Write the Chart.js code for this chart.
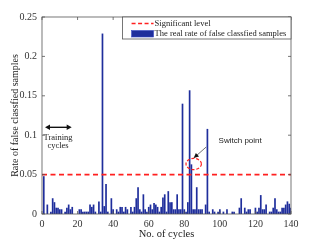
<!DOCTYPE html>
<html>
<head>
    <title>Rate of false classfied samples</title>
    <script src="https://cdn.jsdelivr.net/npm/chart.js"></script>
    <style>
        html, body { margin: 0; padding: 0; background: #fff; }
    </style>
</head>
<body>
    <canvas id="mainChart" width="321" height="241"></canvas>
    <script>
        // rate of false classified samples, cycle 0..140
        const falseRate = [
            0, 0.048, 0, 0.012, 0, 0.003, 0.020, 0.015, 0.008, 0.008,
            0.006, 0.006, 0, 0.003, 0.008, 0.012, 0.006, 0.009, 0, 0,
            0, 0.006, 0.006, 0.003, 0.003, 0.003, 0.003, 0.012, 0.009, 0.012,
            0.003, 0, 0.016, 0.003, 0.229, 0.010, 0.038, 0.003, 0, 0.020,
            0.006, 0, 0.006, 0.003, 0.009, 0.009, 0.003, 0.009, 0.006, 0,
            0.009, 0.003, 0.009, 0.020, 0.034, 0.006, 0.003, 0.025, 0.006, 0.003,
            0.009, 0.012, 0.006, 0.014, 0.012, 0.009, 0.003, 0.009, 0.021, 0.025,
            0.003, 0.029, 0.015, 0.015, 0.006, 0.006, 0.025, 0.006, 0.006, 0.140,
            0.006, 0.003, 0.015, 0.157, 0.063, 0.006, 0.006, 0.034, 0.006, 0.006,
            0.006, 0, 0.012, 0.108, 0.003, 0, 0.006, 0.003, 0, 0.003,
            0.006, 0, 0.003, 0, 0.006, 0, 0, 0.003, 0.003, 0,
            0, 0.008, 0.020, 0, 0.008, 0.003, 0.006, 0.006, 0, 0,
            0.008, 0.003, 0.008, 0.024, 0.006, 0.006, 0.012, 0, 0.003, 0.003,
            0.008, 0.020, 0.006, 0.003, 0.003, 0.008, 0.008, 0.012, 0.016, 0.013,
            0.008
        ];
        const significantLevel = 0.05;
        const xTicks = [0, 20, 40, 60, 80, 100, 120, 140];
        const yTicks = [0, 0.05, 0.1, 0.15, 0.2, 0.25];
        const yTickLabels = ['0', '0.05', '0.1', '0.15', '0.2', '0.25'];

        const serif = '"Liberation Serif", "DejaVu Serif", serif';
        const sans = '"Liberation Sans", Arial, sans-serif';
        const barFill = '#1f2e9c';
        const barEdge = '#3a4bc4';

        const barData = falseRate.map((v, i) => ({ x: i, y: v }));
        const levelData = [{ x: 0, y: significantLevel }, { x: 140, y: significantLevel }];

        function arrowHead(ctx, x, y, ang, len, wid) {
            ctx.beginPath();
            ctx.moveTo(x, y);
            ctx.lineTo(x - len * Math.cos(ang) + wid * Math.sin(ang), y - len * Math.sin(ang) - wid * Math.cos(ang));
            ctx.lineTo(x - len * Math.cos(ang) - wid * Math.sin(ang), y - len * Math.sin(ang) + wid * Math.cos(ang));
            ctx.closePath();
            ctx.fill();
        }

        // box, inward ticks, legend and notes in MATLAB style
        const decorations = {
            id: 'decorations',
            afterDatasetsDraw(chart) {
                const ctx = chart.ctx;
                const a = chart.chartArea;
                const xs = chart.scales.x, ys = chart.scales.y;
                ctx.save();

                // axes box
                ctx.strokeStyle = '#555';
                ctx.lineWidth = 0.8;
                ctx.setLineDash([]);
                ctx.strokeRect(a.left, a.top, a.right - a.left, a.bottom - a.top);
                ctx.beginPath();
                xTicks.forEach(t => {
                    const px = xs.getPixelForValue(t);
                    ctx.moveTo(px, a.bottom); ctx.lineTo(px, a.bottom - 3);
                    ctx.moveTo(px, a.top); ctx.lineTo(px, a.top + 3);
                });
                yTicks.forEach(t => {
                    const py = ys.getPixelForValue(t);
                    ctx.moveTo(a.left, py); ctx.lineTo(a.left + 3, py);
                    ctx.moveTo(a.right, py); ctx.lineTo(a.right - 3, py);
                });
                ctx.stroke();

                // legend
                const lx = xs.getPixelForValue(45.3);
                const ly = a.top;
                const lw = a.right - lx;
                ctx.fillStyle = '#fff';
                ctx.fillRect(lx, ly, lw, 22);
                ctx.strokeStyle = '#555';
                ctx.strokeRect(lx, ly, lw, 22);
                ctx.strokeStyle = '#ff2020';
                ctx.lineWidth = 1.6;
                ctx.setLineDash([4, 2.5]);
                ctx.beginPath();
                ctx.moveTo(lx + 9, ly + 6.5); ctx.lineTo(lx + 31, ly + 6.5);
                ctx.stroke();
                ctx.setLineDash([]);
                ctx.fillStyle = barFill;
                ctx.fillRect(lx + 9, ly + 13.5, 22, 6.5);
                ctx.strokeStyle = barEdge;
                ctx.lineWidth = 0.6;
                ctx.strokeRect(lx + 9, ly + 13.5, 22, 6.5);
                ctx.fillStyle = '#222';
                ctx.font = '8.5px ' + serif;
                ctx.textBaseline = 'middle';
                ctx.textAlign = 'left';
                ctx.fillText('Significant level', lx + 32, ly + 6.5);
                ctx.fillText('The real rate of false classfied samples', lx + 32, ly + 16.8);

                // training cycles double arrow
                const ay = ys.getPixelForValue(0.110);
                const ax0 = xs.getPixelForValue(1.7);
                const ax1 = xs.getPixelForValue(16.7);
                ctx.strokeStyle = '#111';
                ctx.fillStyle = '#111';
                ctx.lineWidth = 1.4;
                ctx.beginPath();
                ctx.moveTo(ax0 + 4, ay); ctx.lineTo(ax1 - 4, ay);
                ctx.stroke();
                arrowHead(ctx, ax0, ay, Math.PI, 5, 2.8);
                arrowHead(ctx, ax1, ay, 0, 5, 2.8);
                ctx.fillStyle = '#222';
                ctx.font = '8.5px ' + serif;
                ctx.textAlign = 'center';
                ctx.fillText('Training', xs.getPixelForValue(9), ys.getPixelForValue(0.097));
                ctx.fillText('cycles', xs.getPixelForValue(9), ys.getPixelForValue(0.086));

                // switch point
                ctx.font = '8px ' + sans;
                ctx.textAlign = 'left';
                ctx.fillText('Switch point', xs.getPixelForValue(99.3), ys.getPixelForValue(0.093));
                const sx0 = xs.getPixelForValue(92.3), sy0 = ys.getPixelForValue(0.085);
                const sx1 = xs.getPixelForValue(85.3), sy1 = ys.getPixelForValue(0.071);
                ctx.strokeStyle = '#333';
                ctx.lineWidth = 0.7;
                ctx.beginPath();
                ctx.moveTo(sx0, sy0); ctx.lineTo(sx1, sy1);
                ctx.stroke();
                ctx.fillStyle = '#111';
                arrowHead(ctx, sx1, sy1, Math.atan2(sy1 - sy0, sx1 - sx0), 5, 2.4);

                ctx.strokeStyle = '#ff2020';
                ctx.lineWidth = 1.2;
                ctx.setLineDash([3, 1.8]);
                ctx.beginPath();
                ctx.ellipse(xs.getPixelForValue(85.3), ys.getPixelForValue(0.0635), 7.7, 5.6, 0, 0, Math.PI * 2);
                ctx.stroke();

                ctx.restore();
            }
        };

        new Chart(document.getElementById('mainChart'), {
            data: {
                datasets: [
                    {
                        type: 'line',
                        label: 'Significant level',
                        data: levelData,
                        borderColor: '#ff2020',
                        borderWidth: 1.6,
                        borderDash: [5, 3.5],
                        pointRadius: 0,
                        fill: false,
                        order: 0
                    },
                    {
                        type: 'bar',
                        label: 'The real rate of false classfied samples',
                        data: barData,
                        backgroundColor: barFill,
                        borderColor: barEdge,
                        borderWidth: 0,
                        barPercentage: 1,
                        categoryPercentage: 0.95,
                        order: 1
                    }
                ]
            },
            options: {
                responsive: false,
                maintainAspectRatio: false,
                animation: false,
                layout: { padding: { top: 17, right: 30, left: 0, bottom: 0 } },
                scales: {
                    x: {
                        type: 'linear',
                        min: 0,
                        max: 140,
                        offset: false,
                        afterBuildTicks: s => { s.ticks = xTicks.map(v => ({ value: v })); },
                        afterFit: s => { s.height = 27; },
                        grid: { display: false, drawTicks: false },
                        border: { display: false },
                        ticks: {
                            color: '#333',
                            padding: 4,
                            font: { family: serif, size: 10 },
                            maxRotation: 0
                        },
                        title: {
                            display: true,
                            text: 'No. of cycles',
                            color: '#222',
                            padding: { top: 0, bottom: 0 },
                            font: { family: serif, size: 10.5 }
                        }
                    },
                    y: {
                        type: 'linear',
                        min: 0,
                        max: 0.25,
                        afterBuildTicks: s => { s.ticks = yTicks.map(v => ({ value: v })); },
                        afterFit: s => { s.width = 42; },
                        grid: { display: false, drawTicks: false },
                        border: { display: false },
                        ticks: {
                            color: '#333',
                            padding: 5,
                            font: { family: serif, size: 10 },
                            callback: (v) => yTickLabels[yTicks.indexOf(v)] ?? ''
                        },
                        title: {
                            display: true,
                            text: 'Rate of false classfied samples',
                            color: '#222',
                            padding: { top: 9, bottom: 0 },
                            font: { family: serif, size: 10 }
                        }
                    }
                },
                plugins: {
                    legend: { display: false },
                    tooltip: { enabled: false }
                }
            },
            plugins: [decorations]
        });
    </script>
</body>
</html>
